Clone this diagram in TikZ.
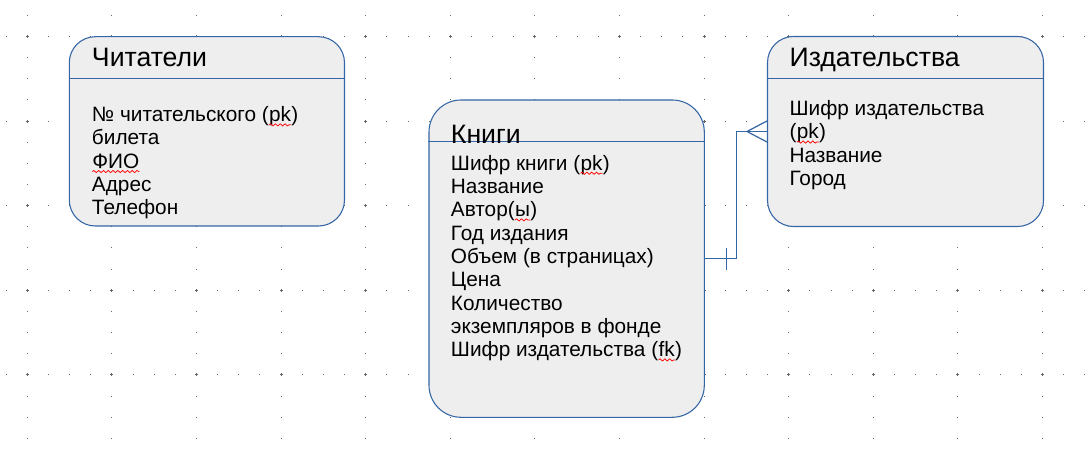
\documentclass[tikz,border=0pt]{standalone}
\usepackage{fontspec}
\setmainfont{Liberation Sans}
\usetikzlibrary{fit,calc,decorations.pathmorphing}

\definecolor{bordo}{HTML}{3465A4}
\definecolor{riemp}{HTML}{EEEEEE}
\definecolor{puntini}{HTML}{666666}

% sottolineatura ondulata rossa (controllo ortografico)
\newcommand{\ondula}[1]{\tikz[baseline=(w.base)]{\node[inner sep=0pt, outer sep=0pt] (w) {#1};
		\draw[red, line width=0.55pt, decorate, decoration={snake, amplitude=0.8pt, segment length=3.6pt}]
		([yshift=-2.4pt]w.base west) -- ([yshift=-2.4pt]w.base east);}}

\begin{document}
\begin{tikzpicture}[x=0.75pt, y=-0.75pt,
	entita/.style={draw=bordo, fill=riemp, line width=0.8pt, rounded corners=#1, inner sep=0pt},
	titolo/.style={anchor=base west, inner sep=0pt, font=\fontsize{20}{23}\selectfont},
	campi/.style={anchor=base west, align=left, inner sep=0pt, font=\fontsize{15.6}{17.5}\selectfont},
	rel/.style={draw=bordo, line width=0.9pt}]
	% Definizioni per la griglia
	\def\passo{84.6}
	\def\dx{21.15}
	\useasboundingbox (0,0) rectangle (1087,459);
	
	% --- Griglia ---
	\foreach \i in {0,...,12} {
		\foreach \k in {0,...,20}
		\fill[puntini] ({27.3+\i*\passo-0.5},{15.35+\k*\dx-0.5}) rectangle ++(1,1);
	}
	\foreach \j in {0,...,4} {
		\foreach \k in {0,...,51}
		\fill[puntini] ({6.15+\k*\dx-0.5},{36.5+\j*\passo-0.5}) rectangle ++(1,1);
	}
	\foreach \i in {0,...,12} {
		\foreach \j in {0,...,4}
		\draw[puntini, line width=0.75pt] ({27.3+\i*\passo-1.5},{36.5+\j*\passo}) -- ++(3,0)
		({27.3+\i*\passo},{36.5+\j*\passo-1.5}) -- ++(0,3);
	}
	
	% --- Entità ---
	\node[entita=19.5pt, fit={(69.3,36.7) (344.5,226)}] (lettori) {};
	\node[entita=24pt, fit={(429,100) (704.3,417.3)}] (libri) {};
	\node[entita=19.5pt, fit={(767.5,36.5) (1043.5,226.5)}] (editori) {};
	
	\draw[bordo, line width=0.8pt] ($(lettori.north west)+(0,42.3)$) -- ($(lettori.north east)+(0,42.3)$);
	\draw[bordo, line width=0.8pt] ($(libri.north west)+(0,42.3)$) -- ($(libri.north east)+(0,42.3)$);
	\draw[bordo, line width=0.8pt] ($(editori.north west)+(0,42.8)$) -- ($(editori.north east)+(0,42.8)$);
	
	% --- Etichette (base = ultima riga) ---
	\node[titolo] (tLettori) at (91.7,66.7) {Читатели};
	\node[campi] (cLettori) at (91.7,215) {№ читательского (\ondula{pk})\\билета\\\ondula{ФИО}\\Адрес\\Телефон};
	
	\node[titolo] (tLibri) at (450.7,143.3) {Книги};
	\node[campi] (cLibri) at (450.7,356.7) {Шифр книги (\ondula{pk})\\Название\\Автор(\ondula{ы})\\Год издания\\Объем (в страницах)\\Цена\\Количество\\экземпляров в фонде\\Шифр издательства (\ondula{fk})};
	
	\node[titolo] (tEditori) at (789.3,66.7) {Издательства};
	\node[campi] (cEditori) at (789.3,185.5) {Шифр издательства\\(\ondula{pk})\\Название\\Город};
	
	% --- Relazione ---
	\draw[rel] (libri.east) -- ++(32,0) |- (editori.west);
	\draw[rel] ($(editori.west)+(-20,0)$) -- ($(editori.west)+(0,-10.5)$)
	($(editori.west)+(-20,0)$) -- ($(editori.west)+(0,10.5)$);
	\draw[rel] ($(libri.east)+(21.5,-11)$) -- ($(libri.east)+(21.5,11)$);
\end{tikzpicture}
\end{document}
